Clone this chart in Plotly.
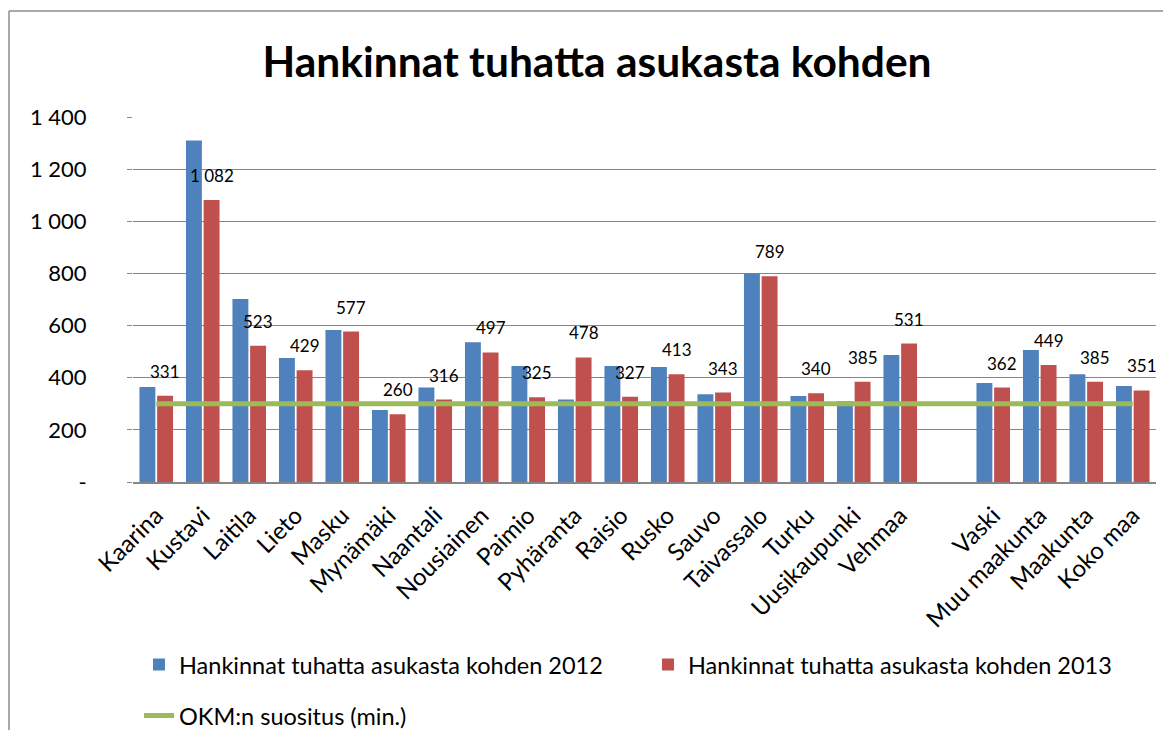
import plotly.graph_objects as go

categories = ["Kaarina", "Kustavi", "Laitila", "Lieto", "Masku", "Mynämäki", "Naantali",
              "Nousiainen", "Paimio", "Pyhäranta", "Raisio", "Rusko", "Sauvo", "Taivassalo",
              "Turku", "Uusikaupunki", "Vehmaa", " ", "Vaski", "Muu maakunta", "Maakunta", "Koko maa"]
values_2012 = [364, 1310, 702, 476, 583, 276, 362, 536, 445, 316, 445, 441, 337, 800,
               330, 310, 487, None, 380, 506, 413, 368]
values_2013 = [331, 1082, 523, 429, 577, 260, 316, 497, 325, 478, 327, 413, 343, 789,
               340, 385, 531, None, 362, 449, 385, 351]
okm_value = 300
y_tickvals = [0, 200, 400, 600, 800, 1000, 1200, 1400]
y_ticktext = ["-", "200", "400", "600", "800", "1 000", "1 200", "1 400"]

def fmt(v):
    return f"{v:,}".replace(",", " ")

FONT = "Lato"
BLUE = "#4F81BD"
RED = "#C0504D"
GREEN = "#9BBB59"
GRID = "#868686"

# figure is drawn inside the page's default 8px body margin
W, H = 1155, 722
L, R, T, B = 125, 7, 109, 248
PW, PH = W - L - R, H - T - B

fig = go.Figure()
fig.add_trace(go.Bar(x=categories, y=values_2012, name="Hankinnat tuhatta asukasta kohden 2012",
                     marker=dict(color=BLUE, line=dict(width=0)), legend="legend"))
fig.add_trace(go.Bar(x=categories, y=values_2013, name="Hankinnat tuhatta asukasta kohden 2013",
                     marker=dict(color=RED, line=dict(width=0)), legend="legend3"))
fig.add_trace(go.Scatter(x=categories, y=[okm_value] * len(categories), mode="lines",
                         name="OKM:n suositus (min.)", line=dict(color=GREEN, width=5),
                         legend="legend2"))

annotations = []
for c, v in zip(categories, values_2013):
    if v is None:
        continue
    annotations.append(dict(x=c, y=v, xref="x", yref="y", text=fmt(v), showarrow=False,
                            xshift=9, yshift=12, yanchor="bottom",
                            font=dict(family=FONT, size=17, color="black")))

legend_font = dict(family=FONT, size=23.5, color="black")
fig.update_layout(
    width=W, height=H,
    margin=dict(l=L, r=R, t=T, b=B, autoexpand=False),
    paper_bgcolor="white", plot_bgcolor="white",
    barmode="group", bargap=0.24, bargroupgap=0.1,
    title=dict(text="<b>Hankinnat tuhatta asukasta kohden</b>", x=0.51, xref="container",
               xanchor="center", y=1 - 54 / H, yref="container", yanchor="middle",
               font=dict(family=FONT, size=42.5, color="black")),
    font=dict(family=FONT, size=22, color="black"),
    xaxis=dict(type="category", tickangle=-45, showgrid=False, showline=True,
               linecolor=GRID, linewidth=2, ticks="", tickfont=dict(size=24),
               ticklabelstandoff=8, range=[-0.5, len(categories) - 0.5]),
    yaxis=dict(range=[0, 1400], tickvals=y_tickvals, ticktext=y_ticktext, showgrid=True,
               gridcolor=GRID, gridwidth=1, zeroline=False, showline=False,
               ticks="outside", ticklen=5, tickcolor=GRID, ticklabelstandoff=36,
               tickfont=dict(size=22)),
    legend=dict(orientation="h", x=(131 - L) / PW, xanchor="left", y=-0.44, yanchor="top",
                font=legend_font, bgcolor="rgba(0,0,0,0)"),
    legend3=dict(orientation="h", x=(640 - L) / PW, xanchor="left", y=-0.44, yanchor="top",
                 font=legend_font, bgcolor="rgba(0,0,0,0)"),
    legend2=dict(orientation="h", x=(131 - L) / PW, xanchor="left", y=-0.58, yanchor="top",
                 font=legend_font, bgcolor="rgba(0,0,0,0)"),
    annotations=annotations,
    showlegend=True,
    shapes=[
        dict(type="line", xref="paper", yref="paper",
             x0=(1 - L) / PW, x1=(1 - L) / PW, y0=-(B + 20) / PH, y1=(PH + T - 3) / PH,
             line=dict(color="#8c8c8c", width=1.5), layer="below"),
        dict(type="line", xref="paper", yref="paper",
             x0=(1 - L) / PW, x1=(W + 20 - L) / PW, y0=(PH + T - 3) / PH, y1=(PH + T - 3) / PH,
             line=dict(color="#8c8c8c", width=1.5), layer="below"),
    ],
)

fig.write_html("out.html")
